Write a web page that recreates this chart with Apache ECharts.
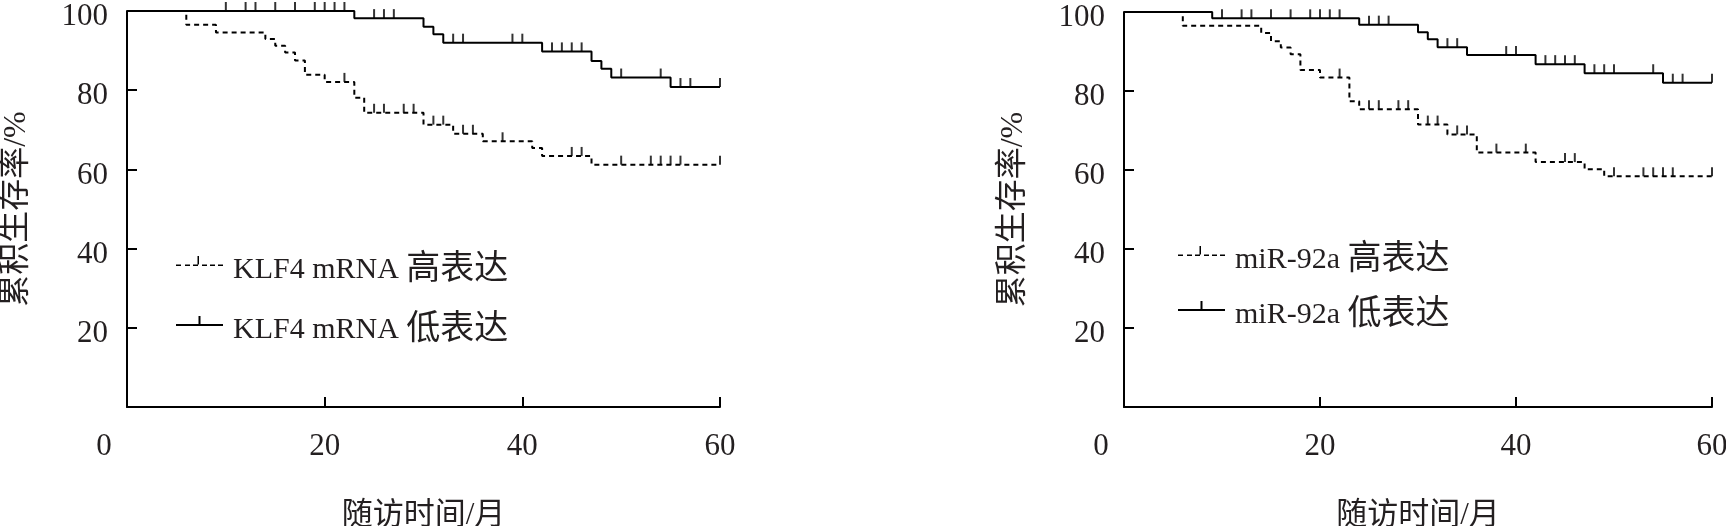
<!DOCTYPE html>
<html>
<head>
<meta charset="utf-8">
<script src="https://cdn.jsdelivr.net/npm/echarts@6/dist/echarts.min.js"></script>
<style>
    html, body { margin: 0; padding: 0; background: #fff; }
    #chart { width: 1726px; height: 526px; }
</style>
</head>
<body>
<div id="chart"></div>
<script>
    // KLF4 panel (left)
    var klfHighTime = [0, 6, 9, 14, 15, 16, 17, 18, 20, 23, 24, 30, 33, 36, 41, 42, 47, 60];
    var klfHighSurv = [100, 96.5, 94.6, 92.9, 91.2, 89.5, 87.5, 83.9, 82.1, 78.1, 74.3, 71.3, 69.0, 67.1, 65.4, 63.4, 61.2, 61.2];
    var klfHighCensor = [22, 25, 26, 28, 29, 31, 32, 34, 35, 38, 45, 46, 50, 53, 54, 55, 56, 60];

    var klfLowTime = [0, 23, 30, 31, 32, 42, 47, 48, 49, 55, 60];
    var klfLowSurv = [100, 98.2, 96.0, 94.1, 92.0, 89.8, 87.4, 85.4, 83.2, 80.8, 80.8];
    var klfLowCensor = [10, 12, 13, 15, 17, 19, 20, 21, 22, 25, 26, 27, 33, 34, 39, 40, 43, 44, 45, 46, 50, 54, 56, 57, 60];

    // miR-92a panel (right)
    var mirHighTime = [0, 6, 14, 15, 16, 17, 18, 20, 23, 24, 30, 33, 36, 42, 47, 49, 60];
    var mirHighSurv = [100, 96.5, 94.7, 92.6, 91.0, 89.3, 85.3, 83.4, 77.4, 75.4, 71.5, 69.0, 64.4, 62.0, 60.2, 58.4, 58.4];
    var mirHighCensor = [22, 25, 26, 28, 29, 31, 32, 34, 35, 38, 41, 45, 46, 50, 53, 54, 55, 56, 60];

    var mirLowTime = [0, 9, 24, 30, 31, 32, 35, 42, 47, 55, 60];
    var mirLowSurv = [100, 98.4, 96.8, 94.9, 93.1, 91.1, 89.1, 86.8, 84.5, 82.1, 82.1];
    var mirLowCensor = [10, 12, 13, 15, 17, 19, 20, 21, 22, 25, 26, 27, 33, 34, 39, 40, 43, 44, 45, 46, 48, 49, 50, 54, 56, 57, 60];

    var xTicks = [0, 20, 40, 60];
    var yTicks = [0, 20, 40, 60, 80, 100];

    var names = ['KLF4 mRNA 高表达', 'KLF4 mRNA 低表达', 'miR-92a 高表达', 'miR-92a 低表达'];

    var FONT = '"Liberation Serif", "Noto Sans CJK SC", serif';
    var INK = '#231f20';

    var solidIcon = 'path://M0,8h47v2h-47z M22.5,0h2v8h-2z';
    var dashedIcon = 'path://M0,8.5h5v1.5h-5z M9,8.5h5v1.5h-5z M17,8.5h5v1.5h-5z M21.5,0h1.5v8.5h-1.5z M26,8.5h5v1.5h-5z M34,8.5h5v1.5h-5z M42,8.5h5v1.5h-5z';

    function zip(xs, ys) {
        return xs.map(function (x, i) { return [x, ys[i]]; });
    }

    // survival level at time t (for placing censor marks on the curve)
    function levelAt(ts, ss, t) {
        var v = ss[0];
        for (var i = 0; i < ts.length; i++) {
            if (ts[i] <= t) v = ss[i];
        }
        return v;
    }

    function curve(name, idx, ts, ss, dashed) {
        return {
            name: name,
            type: 'line',
            step: 'end',
            xAxisIndex: idx,
            yAxisIndex: idx,
            data: zip(ts, ss),
            symbol: 'none',
            showSymbol: false,
            color: '#000',
            lineStyle: { color: '#000', width: 2, type: dashed ? [5, 4] : 'solid' },
            z: 3
        };
    }

    function censor(idx, ts, ss, cs) {
        return {
            type: 'scatter',
            xAxisIndex: idx,
            yAxisIndex: idx,
            data: cs.map(function (t) { return [t, levelAt(ts, ss, t)]; }),
            symbol: 'rect',
            symbolSize: [2, 9],
            symbolOffset: [0, -4.5],
            itemStyle: { color: '#000' },
            silent: true,
            z: 4
        };
    }

    function xAxis(idx) {
        return {
            gridIndex: idx,
            type: 'value',
            min: xTicks[0],
            max: xTicks[xTicks.length - 1],
            interval: xTicks[1] - xTicks[0],
            axisLine: { show: true, onZero: false, lineStyle: { color: '#000', width: 2 } },
            axisTick: { show: true, inside: true, length: 10, lineStyle: { color: '#000', width: 2 } },
            splitLine: { show: false },
            axisLabel: {
                margin: 24,
                showMinLabel: true,
                fontFamily: FONT,
                fontSize: 31,
                color: INK,
                formatter: function (v) { return v === 0 ? '{z|0}' : String(v); },
                rich: { z: { fontFamily: FONT, fontSize: 31, color: INK, padding: [0, 46, 0, 0] } }
            },
            name: '随访时间/月',
            nameLocation: 'middle',
            nameGap: 93,
            nameTextStyle: { fontFamily: FONT, fontSize: 31, color: INK }
        };
    }

    function yAxis(idx) {
        return {
            gridIndex: idx,
            type: 'value',
            min: yTicks[0],
            max: yTicks[yTicks.length - 1],
            interval: yTicks[1] - yTicks[0],
            axisLine: { show: true, onZero: false, lineStyle: { color: '#000', width: 2 } },
            axisTick: { show: true, inside: true, length: 10, lineStyle: { color: '#000', width: 2 } },
            splitLine: { show: false },
            axisLabel: {
                margin: 19,
                fontFamily: FONT,
                fontSize: 31,
                color: INK,
                formatter: function (v) { return v === 0 ? '' : '{v|' + v + '}'; },
                rich: { v: { fontFamily: FONT, fontSize: 31, color: INK, padding: [12, 0, 0, 0] } }
            },
            name: '累积生存率/%',
            nameLocation: 'middle',
            nameGap: 94,
            nameRotate: 90,
            nameTextStyle: { fontFamily: FONT, fontSize: 32, color: INK }
        };
    }

    function legend(left, top, gap, hiName, loName) {
        return {
            orient: 'vertical',
            left: left,
            top: top,
            padding: 0,
            itemWidth: 47,
            itemHeight: 10,
            itemGap: gap,
            selectedMode: false,
            itemStyle: { color: '#000', borderWidth: 0 },
            formatter: function (name) {
                return name.replace(/([\u4e00-\u9fa5]+)/, '{c|$1}');
            },
            textStyle: {
                fontFamily: FONT, fontSize: 30, color: INK, padding: [18, 0, 0, 5],
                rich: { c: { fontFamily: FONT, fontSize: 34, color: INK } }
            },
            data: [
                { name: hiName, icon: dashedIcon },
                { name: loName, icon: solidIcon }
            ]
        };
    }

    var chart = echarts.init(document.getElementById('chart'));
    chart.setOption({
        animation: false,
        backgroundColor: '#fff',
        grid: [
            { left: 127, top: 11, width: 593, height: 396, outerBoundsMode: 'none', containLabel: false },
            { left: 1124, top: 12, width: 588, height: 395, outerBoundsMode: 'none', containLabel: false }
        ],
        xAxis: [xAxis(0), xAxis(1)],
        yAxis: [yAxis(0), yAxis(1)],
        legend: [
            legend(176, 253, 26, names[0], names[1]),
            legend(1178, 243, 21, names[2], names[3])
        ],
        series: [
            curve(names[0], 0, klfHighTime, klfHighSurv, true),
            curve(names[1], 0, klfLowTime, klfLowSurv, false),
            censor(0, klfHighTime, klfHighSurv, klfHighCensor),
            censor(0, klfLowTime, klfLowSurv, klfLowCensor),
            curve(names[2], 1, mirHighTime, mirHighSurv, true),
            curve(names[3], 1, mirLowTime, mirLowSurv, false),
            censor(1, mirHighTime, mirHighSurv, mirHighCensor),
            censor(1, mirLowTime, mirLowSurv, mirLowCensor)
        ]
    });
</script>
</body>
</html>
